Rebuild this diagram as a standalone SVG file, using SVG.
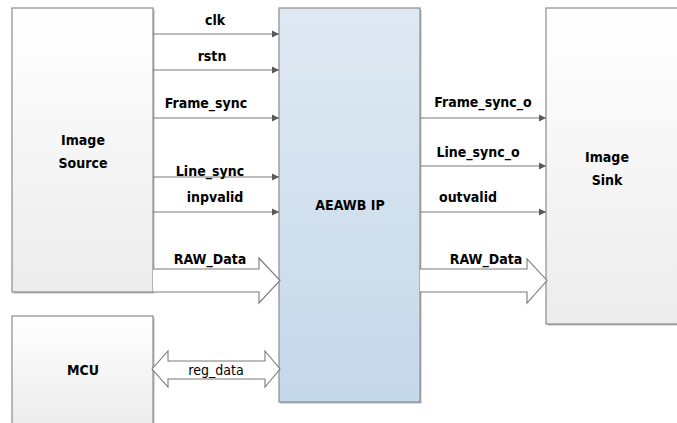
<svg xmlns="http://www.w3.org/2000/svg" width="677" height="423" viewBox="0 0 677 423">
<defs>
<linearGradient id="gGrey" x1="0" y1="0" x2="0" y2="1"><stop offset="0" stop-color="#ffffff"/><stop offset="1" stop-color="#ececec"/></linearGradient>
<linearGradient id="gBlue" x1="0" y1="0" x2="0" y2="1"><stop offset="0" stop-color="#dfe9f3"/><stop offset="1" stop-color="#c5d8e9"/></linearGradient>
<marker id="ah" markerWidth="8" markerHeight="8" refX="7" refY="4" orient="auto" markerUnits="userSpaceOnUse"><path d="M0,0.5 L7,4 L0,7.5 Z" fill="#595959"/></marker>
</defs>
<style>
.box{stroke:#8c8c8c;stroke-width:1.2}
.sh{fill:#b8b8b8}
.ln{stroke:#7a7a7a;stroke-width:1.2;fill:none}
.fat{stroke:#7a7a7a;stroke-width:1.1;fill:#fff}
.lb{font-family:"DejaVu Sans Condensed","DejaVu Sans",sans-serif;font-weight:bold;font-size:14px;fill:#000;text-anchor:middle}
.nl{font-family:"DejaVu Sans Condensed","DejaVu Sans",sans-serif;font-size:14px;fill:#000;text-anchor:middle}
</style>
<g id="image-source">
<rect class="sh" x="13.5" y="9.5" width="141" height="284"/>
<rect class="box" x="12" y="8" width="141" height="284" fill="url(#gGrey)"/>
<text class="lb" x="83" y="145">Image</text>
<text class="lb" x="83" y="168">Source</text>
</g>
<g id="mcu">
<rect class="sh" x="13.5" y="317.5" width="141" height="110"/>
<rect class="box" x="12" y="316" width="141" height="110" fill="url(#gGrey)"/>
<text class="lb" x="83" y="375">MCU</text>
</g>
<g id="aeawb-ip">
<rect class="sh" x="280.5" y="9.5" width="141" height="394"/>
<rect class="box" x="279" y="8" width="141" height="394" fill="url(#gBlue)"/>
<text class="lb" x="350" y="210">AEAWB IP</text>
</g>
<g id="image-sink">
<rect class="sh" x="547.5" y="9.5" width="135" height="316"/>
<rect class="box" x="546" y="8" width="135" height="316" fill="url(#gGrey)"/>
<text class="lb" x="607" y="162">Image</text>
<text class="lb" x="607" y="185">Sink</text>
</g>
<g id="connectors">
<line class="ln" x1="153" y1="34" x2="279" y2="34" marker-end="url(#ah)"/>
<line class="ln" x1="153" y1="70" x2="279" y2="70" marker-end="url(#ah)"/>
<line class="ln" x1="153" y1="118" x2="279" y2="118" marker-end="url(#ah)"/>
<line class="ln" x1="153" y1="177" x2="279" y2="177" marker-end="url(#ah)"/>
<line class="ln" x1="153" y1="212" x2="279" y2="212" marker-end="url(#ah)"/>
<path class="fat" d="M153,269 H259 V258 L280,280.5 L259,303 V292 H153"/>
<path class="fat" d="M152,369 L168,351 V361 H265 V351 L280,369 L265,387 V379 H168 V387 Z"/>
<line class="ln" x1="420" y1="118" x2="546" y2="118" marker-end="url(#ah)"/>
<line class="ln" x1="420" y1="166" x2="546" y2="166" marker-end="url(#ah)"/>
<line class="ln" x1="420" y1="212" x2="546" y2="212" marker-end="url(#ah)"/>
<path class="fat" d="M420,269 H527 V259 L547,280.5 L527,303 V292 H420"/>
<text class="lb" x="215" y="25">clk</text>
<text class="lb" x="212" y="61">rstn</text>
<text class="lb" x="206" y="108">Frame_sync</text>
<text class="lb" x="210" y="176">Line_sync</text>
<text class="lb" x="215" y="202">inpvalid</text>
<text class="lb" x="210" y="264">RAW_Data</text>
<text class="nl" x="216" y="375">reg_data</text>
<text class="lb" x="483" y="107">Frame_sync_o</text>
<text class="lb" x="478" y="157">Line_sync_o</text>
<text class="lb" x="468" y="202">outvalid</text>
<text class="lb" x="486" y="264">RAW_Data</text>
</g>
</svg>
